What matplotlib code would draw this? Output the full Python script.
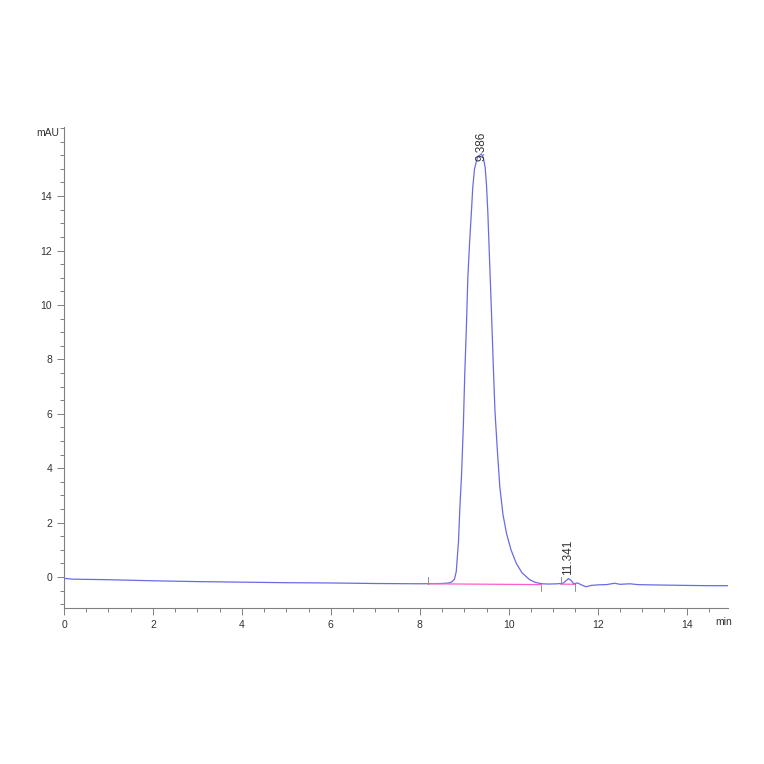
import numpy as np
import matplotlib
matplotlib.use("Agg")
import matplotlib.pyplot as plt
from matplotlib.ticker import MultipleLocator

plt.rcParams['font.family'] = ['Liberation Sans', 'DejaVu Sans']

# chromatogram trace (min, mAU)
tiempo = [0.0, 0.2, 1.0, 2.0, 3.0, 4.0, 5.0, 6.0, 7.0, 8.0, 8.5, 8.65, 8.72,
          8.78, 8.82, 8.87, 8.90, 8.94, 8.98, 9.01, 9.05, 9.08, 9.12, 9.16,
          9.19, 9.23, 9.30, 9.386, 9.43, 9.47, 9.50, 9.53, 9.57, 9.61, 9.65,
          9.69, 9.75, 9.80, 9.87, 9.95, 10.05, 10.17, 10.30, 10.47, 10.6,
          10.75, 10.9, 11.1, 11.22, 11.28, 11.341, 11.40, 11.46, 11.55,
          11.62, 11.74, 11.85, 12.0, 12.2, 12.38, 12.5, 12.72, 12.9, 13.2,
          13.6, 14.0, 14.5, 14.93]
senal = [-0.05, -0.08, -0.1, -0.14, -0.17, -0.19, -0.21, -0.22, -0.24, -0.25,
         -0.24, -0.22, -0.18, -0.08, 0.2, 1.3, 2.5, 3.8, 5.6, 7.4, 9.3, 11.0,
         12.3, 13.4, 14.3, 15.0, 15.45, 15.55, 15.4, 15.05, 14.4, 13.4, 11.6,
         9.8, 7.9, 6.1, 4.5, 3.3, 2.3, 1.6, 1.0, 0.5, 0.15, -0.1, -0.2,
         -0.25, -0.26, -0.25, -0.23, -0.15, -0.06, -0.12, -0.25, -0.22,
         -0.28, -0.36, -0.31, -0.29, -0.28, -0.23, -0.27, -0.25, -0.28,
         -0.29, -0.3, -0.31, -0.32, -0.32]

# integration baselines
base_t = [[8.18, 10.73], [11.17, 11.5]]
base_y = [[-0.25, -0.28], [-0.26, -0.27]]

picos = [9.386, 11.341]
picos_y = [15.2, -0.02]
etiquetas = ["9.386", "11.341"]

fig = plt.figure(figsize=(7.64, 7.64), dpi=100)
ax = fig.add_axes([64/764, 156/764, 664/764, 481/764])

ax.plot(tiempo, senal, color='#6a6ae6', lw=0.9)
for bt, by in zip(base_t, base_y):
    ax.plot(bt, by, color='#ff5ccd', lw=0.9)
    ax.plot([bt[0], bt[0]], [by[0], by[0] + 0.25], color='#808080', lw=0.6)
    ax.plot([bt[1], bt[1]], [by[1], by[1] - 0.25], color='#808080', lw=0.6)

for p, py, lab in zip(picos, picos_y, etiquetas):
    ax.text(p, py + 0.1, lab, rotation=90, ha='center', va='bottom',
            fontsize=8.5, color='#333333')

ax.set_xlim(0, 14.93)
ax.set_ylim(-1.14, 16.54)
ax.xaxis.set_major_locator(MultipleLocator(2))
ax.xaxis.set_minor_locator(MultipleLocator(0.5))
ax.set_yticks([0, 2, 4, 6, 8, 10, 12, 14])
ax.yaxis.set_minor_locator(MultipleLocator(0.5))

for s in ['top', 'right']:
    ax.spines[s].set_visible(False)
for s in ['left', 'bottom']:
    ax.spines[s].set_color('#808080')
    ax.spines[s].set_linewidth(0.8)
ax.tick_params(which='both', color='#808080', labelsize=7.5,
               labelcolor='#333333', width=0.7)
ax.tick_params(which='major', length=5)
ax.tick_params(which='minor', length=3)

fig.text(36/764, 1 - 133/764, "mAU", fontsize=7.5, color='#333333',
         va='center', ha='left')
fig.text(715/764, 1 - 622/764, "min", fontsize=7.5, color='#333333',
         va='center', ha='left')

plt.savefig("out.png", dpi=100)
